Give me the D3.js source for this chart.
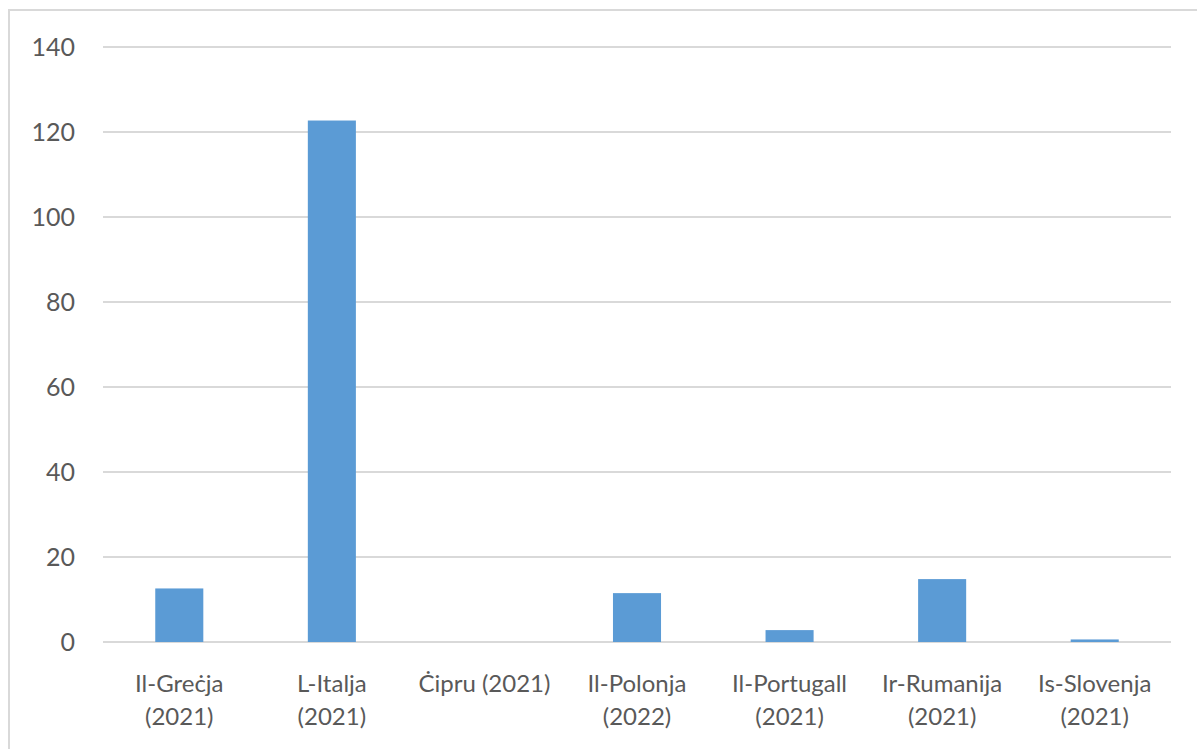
<!DOCTYPE html>
<html>
<head>
<meta charset="utf-8">
<script src="https://cdn.jsdelivr.net/npm/d3@7"></script>
<style>
  body { margin: 0; background: #fff; }
  svg { display: block; }
  text { font-family: Lato, "Open Sans", sans-serif; fill: #595959; }
</style>
</head>
<body>
<svg id="chart" width="1197" height="749"></svg>
<script>
// data
const categories = [
  "Il-Greċja\n(2021)",
  "L-Italja\n(2021)",
  "Ċipru (2021)",
  "Il-Polonja\n(2022)",
  "Il-Portugall\n(2021)",
  "Ir-Rumanija\n(2021)",
  "Is-Slovenja\n(2021)"
];
const values = [12.6, 122.7, 0, 11.5, 2.8, 14.8, 0.6];
const yTicks = [0, 20, 40, 60, 80, 100, 120, 140];

const svg = d3.select("#chart");

// outer frame
svg.append("rect")
  .attr("x", 9).attr("y", 10)
  .attr("width", 1197).attr("height", 760)
  .attr("fill", "none")
  .attr("stroke", "#d9d9d9")
  .attr("stroke-width", 2);

const plotLeft = 103, plotRight = 1171, plotTop = 47, plotBottom = 642;

const x = d3.scaleBand()
  .domain(categories)
  .range([plotLeft, plotRight])
  .paddingInner(0.685)
  .paddingOuter(0.3425);

const y = d3.scaleLinear().domain([0, 140]).range([plotBottom, plotTop]);

// gridlines
svg.append("g")
  .selectAll("line")
  .data(yTicks)
  .enter()
  .append("line")
  .attr("x1", plotLeft).attr("x2", plotRight)
  .attr("y1", (d) => y(d)).attr("y2", (d) => y(d))
  .attr("stroke", "#d9d9d9")
  .attr("stroke-width", 2);

// y labels
svg.append("g")
  .selectAll("text")
  .data(yTicks)
  .enter()
  .append("text")
  .attr("x", 75)
  .attr("y", (d) => y(d))
  .attr("dy", "0.36em")
  .attr("text-anchor", "end")
  .attr("font-size", 25)
  .text((d) => d);

// bars
svg.append("g")
  .selectAll("rect")
  .data(values)
  .enter()
  .append("rect")
  .attr("x", (d, i) => x(categories[i]))
  .attr("width", x.bandwidth())
  .attr("y", (d) => y(d))
  .attr("height", (d) => y(0) - y(d))
  .attr("fill", "#5b9bd5");

// x labels
const lab = svg.append("g")
  .selectAll("text")
  .data(categories)
  .enter()
  .append("text")
  .attr("x", (d) => x(d) + x.bandwidth() / 2)
  .attr("y", 692)
  .attr("text-anchor", "middle")
  .attr("font-size", 24);
lab.each(function (d) {
  const t = d3.select(this);
  d.split("\n").forEach((line, i) => {
    t.append("tspan")
      .attr("x", x(d) + x.bandwidth() / 2)
      .attr("dy", i === 0 ? 0 : 33)
      .text(line);
  });
});
</script>
</body>
</html>
